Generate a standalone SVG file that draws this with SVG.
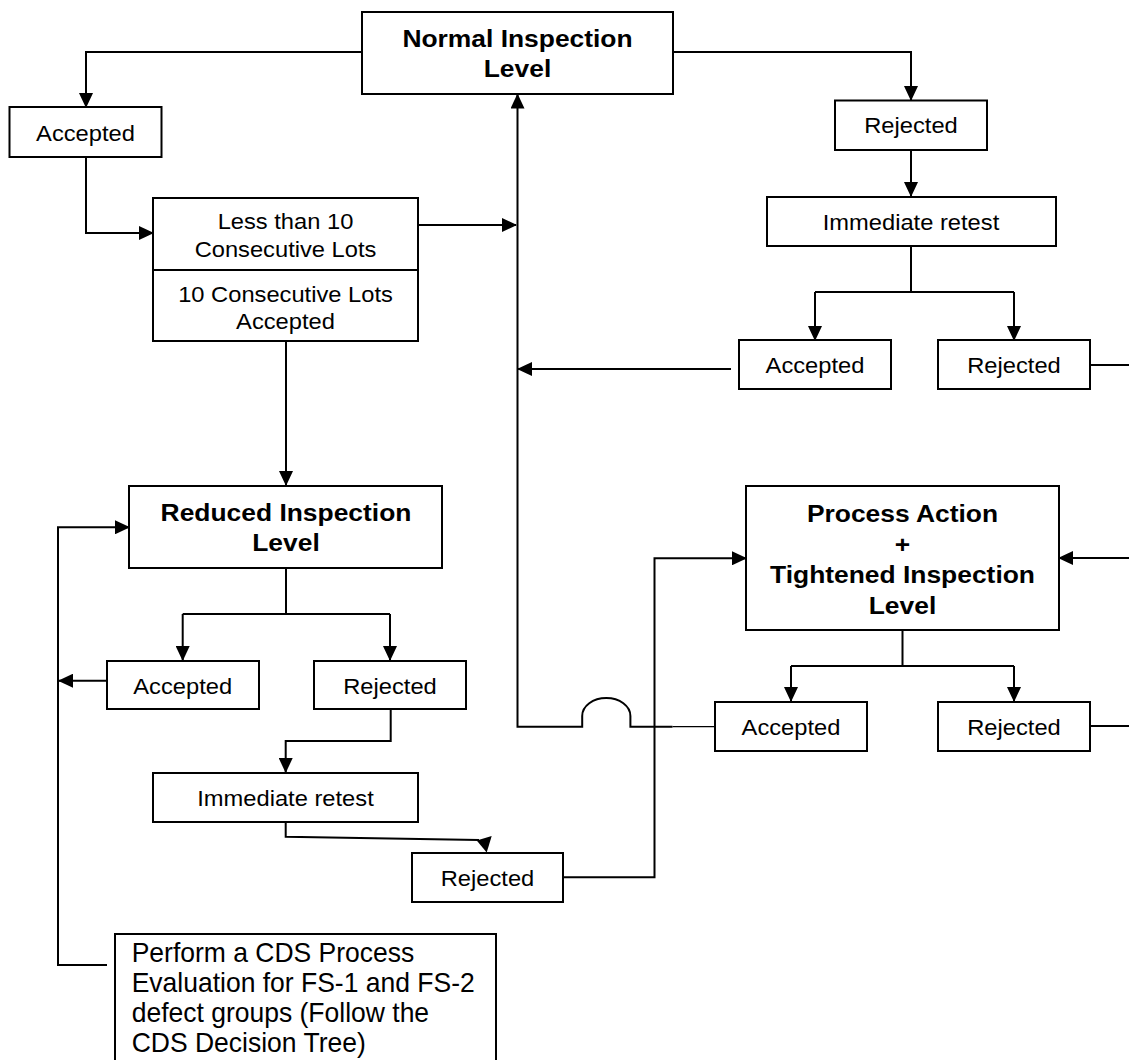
<svg xmlns="http://www.w3.org/2000/svg" width="1129" height="1060" viewBox="0 0 1129 1060">
  <defs>
    <marker id="arrow" viewBox="0 0 15 14" markerWidth="15" markerHeight="14" refX="14" refY="7" orient="auto" markerUnits="userSpaceOnUse">
      <path d="M0,0 L15,7 L0,14 z" fill="#000"/>
    </marker>
    <style>
      .box { fill: #fff; stroke: #000; stroke-width: 2; }
      .line { fill: none; stroke: #000; stroke-width: 2; }
      .thin { fill: none; stroke: #000; stroke-width: 1.3; }
      .arr { marker-end: url(#arrow); }
      .head { fill: #000; }
      text { font-family: "Liberation Sans", Arial, sans-serif; fill: #000; }
      .t { font-size: 22px; text-anchor: middle; }
      .b { font-size: 24px; font-weight: bold; text-anchor: middle; }
      .note { font-size: 26.5px; }
    </style>
  </defs>
  <rect width="1129" height="1060" fill="#fff"/>

  <!-- connectors -->
  <g id="connectors">
    <path class="line arr" d="M362,52 H86 V107"/>
    <path class="line arr" d="M673,52 H911 V100"/>
    <path class="line arr" d="M86,157 V233 H153"/>
    <path class="line arr" d="M418,225 H516"/>
    <path class="line arr" d="M286,341 V485"/>
    <path class="line arr" d="M911,150 V196"/>
    <path class="line" d="M911,246 V292 M815,292 H1014"/>
    <path class="line arr" d="M815,292 V340"/>
    <path class="line arr" d="M1014,292 V340"/>
    <path class="line arr" d="M731,369 H518"/>
    <path class="line" d="M1090,365 H1129"/>
    <path class="line arr" d="M1129,558 H1059"/>
    <path class="line" d="M902.5,630 V666 M791,666 H1014"/>
    <path class="line arr" d="M791,666 V701"/>
    <path class="line arr" d="M1014,666 V701"/>
    <path class="thin" d="M715,726.7 H672.5"/>
    <path class="line arr" d="M672.5,726.7 H630.4 V716 A24.1,18 0 0 0 582.2,716 V726.7 H517.5 V94.5"/>
    <path class="line" d="M1090,726 H1129"/>
    <path class="line" d="M286,568 V614 M182.7,614 H390"/>
    <path class="line arr" d="M182.7,614 V660"/>
    <path class="line arr" d="M390,614 V660"/>
    <path class="line arr" d="M106.7,680.7 H59"/>
    <path class="line arr" d="M390.7,709 V741 H285.7 V772"/>
    <path class="line" d="M285.7,822 V836.7 L479,840"/>
    <polygon class="head" points="476.7,840.6 491.7,836 486.7,852.5"/>
    <path class="line arr" d="M563,877.3 H654.5 V558.3 H746"/>
    <path class="line arr" d="M107,965 H58 V527.3 H129"/>
  </g>

  <!-- nodes -->
  <g id="normal-inspection">
    <rect class="box" x="362" y="12" width="311" height="82"/>
    <text class="b" transform="translate(517.5,46.7) scale(1.1,1)">Normal Inspection</text>
    <text class="b" transform="translate(517.5,77.3) scale(1.1,1)">Level</text>
  </g>

  <g id="accepted-normal">
    <rect class="box" x="9.5" y="107" width="152" height="50"/>
    <text class="t" transform="translate(85.5,140.7) scale(1.077,1)">Accepted</text>
  </g>

  <g id="consecutive-lots">
    <rect class="box" x="153" y="198" width="265" height="143"/>
    <path class="line" d="M153,270 H418"/>
    <text class="t" transform="translate(285.5,229.3) scale(1.077,1)">Less than 10</text>
    <text class="t" transform="translate(285.5,256.7) scale(1.077,1)">Consecutive Lots</text>
    <text class="t" transform="translate(285.5,302.3) scale(1.077,1)">10 Consecutive Lots</text>
    <text class="t" transform="translate(285.5,329.3) scale(1.077,1)">Accepted</text>
  </g>

  <g id="rejected-normal">
    <rect class="box" x="835" y="100.5" width="152" height="49.5"/>
    <text class="t" transform="translate(911,133.3) scale(1.077,1)">Rejected</text>
  </g>

  <g id="retest-normal">
    <rect class="box" x="767" y="197" width="289" height="49"/>
    <text class="t" transform="translate(911,230) scale(1.077,1)">Immediate retest</text>
  </g>

  <g id="retest-normal-accepted">
    <rect class="box" x="739" y="340" width="152" height="49"/>
    <text class="t" transform="translate(815,373.3) scale(1.077,1)">Accepted</text>
  </g>

  <g id="retest-normal-rejected">
    <rect class="box" x="938" y="340" width="152" height="49"/>
    <text class="t" transform="translate(1014,373.3) scale(1.077,1)">Rejected</text>
  </g>

  <g id="reduced-inspection">
    <rect class="box" x="129" y="486" width="313" height="82"/>
    <text class="b" transform="translate(286,521) scale(1.1,1)">Reduced Inspection</text>
    <text class="b" transform="translate(286,551) scale(1.1,1)">Level</text>
  </g>

  <g id="tightened-inspection">
    <rect class="box" x="746" y="486" width="313" height="144"/>
    <text class="b" transform="translate(902.5,522) scale(1.1,1)">Process Action</text>
    <text class="b" transform="translate(902.5,552.5) scale(1.1,1)">+</text>
    <text class="b" transform="translate(902.5,583) scale(1.1,1)">Tightened Inspection</text>
    <text class="b" transform="translate(902.5,613.5) scale(1.1,1)">Level</text>
  </g>

  <g id="accepted-reduced">
    <rect class="box" x="107" y="661" width="152" height="48"/>
    <text class="t" transform="translate(182.7,693.5) scale(1.077,1)">Accepted</text>
  </g>

  <g id="rejected-reduced">
    <rect class="box" x="314" y="661" width="152" height="48"/>
    <text class="t" transform="translate(390,693.5) scale(1.077,1)">Rejected</text>
  </g>

  <g id="accepted-tightened">
    <rect class="box" x="715" y="702" width="152" height="49"/>
    <text class="t" transform="translate(791,735) scale(1.077,1)">Accepted</text>
  </g>

  <g id="rejected-tightened">
    <rect class="box" x="938" y="702" width="152" height="49"/>
    <text class="t" transform="translate(1014,735) scale(1.077,1)">Rejected</text>
  </g>

  <g id="retest-reduced">
    <rect class="box" x="153" y="773" width="265" height="49"/>
    <text class="t" transform="translate(285.5,806) scale(1.077,1)">Immediate retest</text>
  </g>

  <g id="retest-reduced-rejected">
    <rect class="box" x="412" y="853" width="151" height="49"/>
    <text class="t" transform="translate(487.5,886) scale(1.077,1)">Rejected</text>
  </g>

  <g id="cds-evaluation">
    <rect class="box" x="115" y="934" width="381" height="140"/>
    <text class="note" transform="translate(131.7,961.7) scale(1,1.05)">Perform a CDS Process</text>
    <text class="note" transform="translate(131.7,991.7) scale(1,1.05)">Evaluation for FS-1 and FS-2</text>
    <text class="note" transform="translate(131.7,1021.7) scale(1,1.05)">defect groups (Follow the</text>
    <text class="note" transform="translate(131.7,1051.7) scale(1,1.05)">CDS Decision Tree)</text>
  </g>
</svg>
